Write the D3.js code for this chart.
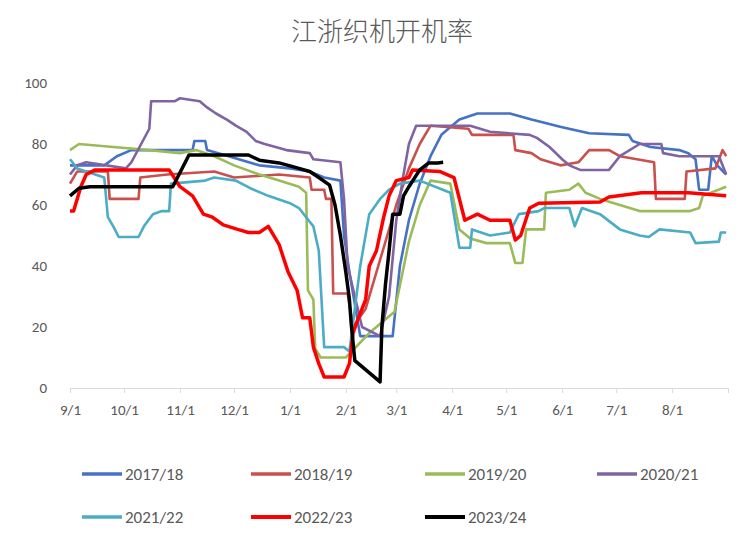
<!DOCTYPE html>
<html>
<head>
<meta charset="utf-8">
<script src="https://cdn.jsdelivr.net/npm/d3@7/dist/d3.min.js"></script>
<style>
  html, body { margin: 0; padding: 0; background: #fff; }
  svg { display: block; }
  .num { font-family: "Liberation Sans Narrow", "Arial Narrow", Carlito, "Liberation Sans", sans-serif; fill: #595959; }
</style>
</head>
<body>
<svg id="chart" width="739" height="545"></svg>
<script>
// Jiangsu/Zhejiang loom operating rate (%), one season per series, Sep 1 -> Aug 31
const seasons = ["2017/18", "2018/19", "2019/20", "2020/21", "2021/22", "2022/23", "2023/24"];
const colors  = ["#4472C4", "#C9504D", "#9BBB59", "#8064A2", "#4BACC6", "#FF0000", "#000000"];
const yTicks  = [0, 20, 40, 60, 80, 100];
const monthTicks = ["9/1", "10/1", "11/1", "12/1", "1/1", "2/1", "3/1", "4/1", "5/1", "6/1", "7/1", "8/1"];

// [month/day, rate]
const s2017 = [["9/1",73],["9/20",73],["9/27",76],["10/5",78],["11/8",78],["11/9",81],["11/15",81],["11/16",78],
  ["11/28",76],["12/15",73],["1/1",72],["1/12",71],["1/20",69],["1/29",68],["1/31",50],["2/3",38],["2/9",17],
  ["2/27",17],["3/3",40],["3/8",55],["3/14",67],["3/20",76],["3/26",83],["4/5",88],["4/15",90],["5/3",90],
  ["5/15",88],["6/1",85.5],["6/16",83.5],["7/8",83],["7/10",81],["7/20",79],["8/5",78],["8/10",77],["8/14",75],
  ["8/16",65],["8/21",65],["8/23",76],["8/26",73],["8/31",70]];
const s2018 = [["9/1",67],["9/5",71],["9/22",71],["9/23",62],["10/9",62],["10/10",69],["10/25",70],["11/20",71],
  ["12/1",69],["12/26",70],["1/12",69],["1/13",65],["1/20",65],["1/21",62],["1/24",62],["1/25",31],["2/2",31],
  ["2/5",20],["2/12",26],["2/20",42],["3/1",60],["3/8",72],["3/14",80],["3/20",86],["4/10",85],["4/12",83],
  ["5/5",83],["5/6",78],["5/15",77],["5/20",75],["5/31",73],["6/10",74],["6/16",78],["6/27",78],["7/3",76],
  ["7/22",74],["7/23",62],["8/8",62],["8/9",71],["8/25",72],["8/29",78],["8/31",76]];
const s2019 = [["9/1",78],["9/6",80],["9/25",79],["10/15",78],["11/1",77],["11/10",78],["11/20",76],["12/1",73],
  ["12/15",70],["12/26",68],["1/6",66],["1/10",64],["1/11",32],["1/14",29],["1/15",13],["1/18",10],["2/1",10],
  ["2/14",18],["2/28",25],["3/8",48],["3/14",60],["3/20",68],["3/31",67],["4/5",52],["4/11",49],["4/20",47.5],
  ["5/3",47.5],["5/6",41],["5/10",41],["5/12",52],["5/22",52],["5/23",64],["6/5",65],["6/10",67],["6/14",64],
  ["6/22",62],["7/3",60],["7/14",58],["8/11",58],["8/16",59],["8/18",63],["8/31",66]];
const s2020 = [["9/1",70],["9/5",73],["9/10",74],["10/2",72],["10/5",74],["10/15",85],["10/16",94],["10/29",94],
  ["11/1",95],["11/12",94],["11/16",92],["11/21",90],["11/27",88],["12/2",86],["12/8",84],["12/13",81],
  ["12/18",80],["12/30",78],["1/12",77],["1/14",75],["1/29",74],["1/31",62],["2/2",40],["2/10",20],["2/20",17],
  ["2/25",30],["3/1",55],["3/5",70],["3/8",80],["3/12",86],["4/11",86],["4/22",84],["5/14",83],["5/18",82],
  ["5/25",79],["6/1",75],["6/5",73],["6/11",71.5],["6/27",71.5],["7/3",76],["7/14",80],["7/26",80],["7/27",77],
  ["8/5",76],["8/27",76],["8/31",70]];
const s2021 = [["9/1",75],["9/5",72],["9/15",70],["9/20",69],["9/22",56],["9/25",53],["9/28",49.5],["10/9",49.5],
  ["10/12",53],["10/17",57],["10/22",58],["10/26",58],["10/27",67],["11/15",68],["11/20",69],["12/2",68],
  ["12/10",65.5],["12/20",63],["1/1",60.6],["1/6",59],["1/10",56],["1/14",53],["1/17",45],["1/20",13.4],
  ["1/31",13.4],["2/3",12],["2/9",40],["2/14",57],["2/20",62],["2/25",65],["3/3",67],["3/14",68],["3/31",64],
  ["4/5",46],["4/11",46],["4/12",52],["4/22",50],["5/3",51],["5/8",57],["5/19",58],["5/22",59],["6/5",59],
  ["6/8",53],["6/12",59],["6/22",57],["7/3",52],["7/14",50],["7/19",49.5],["7/25",52],["8/11",51],["8/14",47.5],
  ["8/27",48],["8/28",51],["8/31",51]];
const s2022 = [["9/1",58],["9/3",58],["9/5",62],["9/7",66],["9/10",70],["9/15",71.5],["10/26",71.5],["11/1",66],
  ["11/8",63],["11/14",57],["11/19",56],["11/25",53.5],["12/3",52],["12/9",51],["12/15",51],["12/20",53],
  ["12/26",47],["12/31",38],["1/5",32],["1/8",23],["1/12",23],["1/14",13.4],["1/17",8],["1/20",3.6],["1/31",3.6],
  ["2/3",8],["2/5",18],["2/8",23],["2/12",29],["2/14",40],["2/18",45],["2/22",56],["2/25",63],["3/1",68],
  ["3/8",69],["3/10",71.5],["3/25",71],["4/2",69],["4/8",55],["4/15",57],["4/22",55],["5/3",55],["5/6",48.5],
  ["5/9",50],["5/14",59],["5/19",60.6],["6/22",61],["6/27",62.6],["7/15",64],["8/10",64],["8/31",63]];
const s2023 = [["9/1",63],["9/6",65.5],["9/12",66],["10/28",66],["11/6",76.4],["12/9",76.4],["12/15",74.7],
  ["12/26",73.8],["1/6",72],["1/12",71],["1/17",69],["1/23",66.5],["1/26",60],["1/29",50],["2/1",38],["2/3",29],
  ["2/4",21],["2/6",9],["2/8",8],["2/20",2],["2/21",20],["2/23",34],["2/25",45],["2/27",57],["3/3",57],["3/5",63],
  ["3/8",66],["3/14",71.5],["3/19",73.8],["3/24",73.8],["3/27",74]];

const seriesValues = [s2017, s2018, s2019, s2020, s2021, s2022, s2023];

// Season dates: Sep-Dec fall in the first year, Jan-Aug in the next
function seasonDate(md) {
  const [m, d] = md.split("/").map(Number);
  return new Date(m >= 9 ? 2001 : 2002, m - 1, d);
}

const svg = d3.select("#chart");
const margin = { left: 70, right: 11, top: 83, bottom: 157 };
const W = 739, H = 545;

const x = d3.scaleTime()
  .domain([new Date(2001, 8, 1), new Date(2002, 8, 1)])
  .range([margin.left, W - margin.right]);
const y = d3.scaleLinear().domain([0, 100]).range([H - margin.bottom, margin.top]);

// Title
svg.append("text")
  .attr("x", 382).attr("y", 41)
  .attr("text-anchor", "middle")
  .attr("font-family", "'Noto Sans CJK SC', sans-serif")
  .attr("font-size", 26)
  .attr("font-weight", 300)
  .attr("fill", "#595959")
  .text("江浙织机开机率");

// Y axis (labels only)
const yAxis = svg.append("g")
  .attr("transform", `translate(${margin.left},0)`)
  .call(d3.axisLeft(y).tickValues(yTicks).tickSize(0).tickPadding(23));
yAxis.select(".domain").remove();
yAxis.selectAll("text").attr("class", "num").attr("font-size", 15);

// X axis
const xAxis = svg.append("g")
  .attr("transform", `translate(0,${y(0)})`)
  .call(d3.axisBottom(x)
    .tickValues(monthTicks.map(seasonDate))
    .tickFormat((d, i) => monthTicks[i])
    .tickSize(5).tickPadding(11));
xAxis.select(".domain").attr("stroke", "#D9D9D9").attr("stroke-width", 1);
xAxis.selectAll(".tick line").attr("stroke", "#D9D9D9");
xAxis.selectAll("text").attr("class", "num").attr("font-size", 15);

// Lines
const line = d3.line()
  .x(d => x(seasonDate(d[0])))
  .y(d => y(d[1]));

seriesValues.forEach((vals, i) => {
  svg.append("path")
    .datum(vals)
    .attr("fill", "none")
    .attr("stroke", colors[i])
    .attr("stroke-width", i >= 5 ? 3.5 : 2.6)
    .attr("stroke-linejoin", "round")
    .attr("d", line);
});

// Legend
const legendCols = [82, 251, 425, 597];
const legendRows = [474, 517];
seasons.forEach((name, i) => {
  const lx = legendCols[i % 4], ly = legendRows[Math.floor(i / 4)];
  const g = svg.append("g").attr("transform", `translate(${lx},${ly})`);
  g.append("line").attr("x1", 0).attr("x2", 40).attr("y1", 0).attr("y2", 0)
    .attr("stroke", colors[i]).attr("stroke-width", i >= 5 ? 4 : 3.5);
  g.append("text").attr("class", "num").attr("x", 43).attr("y", 6)
    .attr("font-size", 17).text(name);
});
</script>
</body>
</html>
